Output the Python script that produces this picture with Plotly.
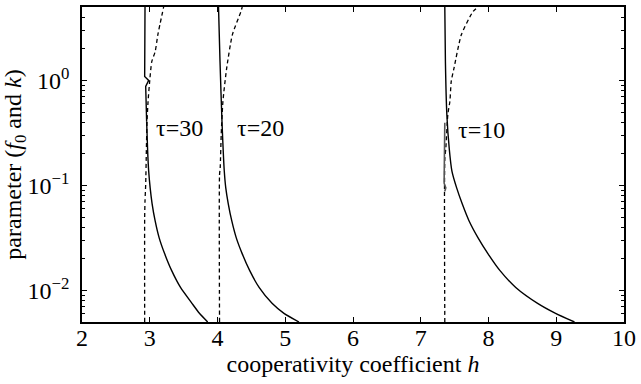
import math
import plotly.graph_objects as go

# ---- data ----
# tau = 30
h30_top = [2.93, 2.925, 2.984, 2.94, 2.954]
f30_top = [5.0, 1.09, 1.0, 0.877, 0.408]
h30_solid = [2.954, 2.969, 2.984, 3.006, 3.035, 3.079, 3.138, 3.219, 3.322, 3.454, 3.623, 3.733, 3.855]
f30_solid = [0.408, 0.212, 0.137, 0.0947, 0.0668, 0.0461, 0.0318, 0.0224, 0.0155, 0.01067, 0.00753, 0.00605, 0.005]
h30_dash = [2.925, 2.925, 2.93, 2.94, 2.95, 2.96, 2.975, 3.0, 3.03, 3.08, 3.12, 3.205]
f30_dash = [0.005, 0.05, 0.071, 0.102, 0.214, 0.41, 0.63, 1.0, 1.51, 1.88, 2.73, 5.0]

# tau = 20
h20_solid = [4.015, 4.037, 4.066, 4.100, 4.122, 4.159, 4.210, 4.276, 4.364, 4.474, 4.614, 4.805, 4.981, 5.203]
f20_solid = [5.0, 1.51, 0.41, 0.137, 0.0947, 0.0668, 0.0461, 0.0318, 0.0224, 0.0155, 0.01067, 0.00753, 0.00605, 0.005]
h20_dash = [4.03, 4.03, 4.04, 4.055, 4.08, 4.135, 4.22, 4.345, 4.365]
f20_dash = [0.005, 0.126, 0.148, 0.309, 0.63, 1.30, 2.73, 4.51, 5.0]

# tau = 10
h10_solid = [7.355, 7.364, 7.385, 7.42, 7.46, 7.53, 7.612, 7.712, 7.844, 7.991, 8.167, 8.402, 8.725, 8.990, 9.269]
f10_solid = [5.0, 1.51, 0.476, 0.226, 0.137, 0.0947, 0.0668, 0.0461, 0.0318, 0.0224, 0.0155, 0.01067, 0.00753, 0.00605, 0.005]
h10_dash = [7.355, 7.355, 7.37, 7.40, 7.43, 7.45, 7.49, 7.60, 7.77, 7.845]
f10_dash = [0.005, 0.178, 0.226, 0.476, 0.63, 0.977, 1.30, 2.73, 4.51, 5.0]
h10_extra = [7.355, 7.355, 7.345, 7.37, 7.355]
f10_extra = [0.394, 0.119, 0.105, 0.095, 0.088]

labels = ["τ=30", "τ=20", "τ=10"]
label_h = [3.44, 4.63, 7.89]
label_f = [0.35, 0.35, 0.335]

y_tickvals = [0.01, 0.1, 1]
y_ticktext = ["10<sup>−2</sup>", "10<sup>−1</sup>", "10<sup>0</sup>"]

FONT = "Liberation Serif, Times New Roman, Times, serif"
FS = 24

fig = go.Figure()
solid = dict(color="black", width=1.4)
dashed = dict(color="black", width=1.3, dash="4px,3px")

fig.add_trace(go.Scatter(x=h30_top, y=f30_top, mode="lines", line=solid, showlegend=False))
for hs, fs in [(h30_solid, f30_solid), (h20_solid, f20_solid), (h10_solid, f10_solid)]:
    fig.add_trace(go.Scatter(x=hs, y=fs, mode="lines", line=dict(solid, shape="spline", smoothing=0.6),
                             showlegend=False))
for hs, fs in [(h30_dash, f30_dash), (h20_dash, f20_dash), (h10_dash, f10_dash)]:
    fig.add_trace(go.Scatter(x=hs, y=fs, mode="lines", line=dict(dashed, shape="spline", smoothing=0.6),
                             showlegend=False))
fig.add_trace(go.Scatter(x=h10_extra, y=f10_extra, mode="lines",
                         line=dict(color="#555", width=1.6), showlegend=False))

for t, hx, fy in zip(labels, label_h, label_f):
    fig.add_annotation(x=hx, y=math.log10(fy), text=t, showarrow=False,
                       font=dict(family=FONT, size=FS, color="black"))

fig.update_layout(
    width=641, height=384,
    margin=dict(l=82, r=14, t=5, b=62),
    paper_bgcolor="white", plot_bgcolor="white",
    font=dict(family=FONT, size=FS, color="black"),
)
fig.update_xaxes(
    range=[2, 10], dtick=1, tick0=2, showgrid=False, zeroline=False,
    showline=True, linecolor="black", linewidth=1.5, mirror="ticks",
    ticks="inside", ticklen=5, tickcolor="black", tickwidth=1,
    ticklabelstandoff=-7,
    tickfont=dict(family=FONT, size=FS),
    title=dict(text="cooperativity coefficient <i>h</i>", font=dict(family=FONT, size=FS), standoff=3),
)
fig.update_yaxes(
    type="log", range=[math.log10(0.005), math.log10(5)],
    tickmode="array", tickvals=y_tickvals, ticktext=y_ticktext,
    showgrid=False, zeroline=False,
    showline=True, linecolor="black", linewidth=1.5, mirror="ticks",
    ticks="inside", ticklen=5, tickcolor="black", tickwidth=1,
    ticklabelstandoff=6,
    minor=dict(ticks="inside", ticklen=3, tickcolor="black", tickwidth=1, dtick="D1", showgrid=False),
    tickfont=dict(family=FONT, size=FS),
    title=dict(text="parameter (<i>f</i><sub>0</sub> and <i>k</i>)", font=dict(family=FONT, size=FS), standoff=2),
)
fig.write_html("out.html")
